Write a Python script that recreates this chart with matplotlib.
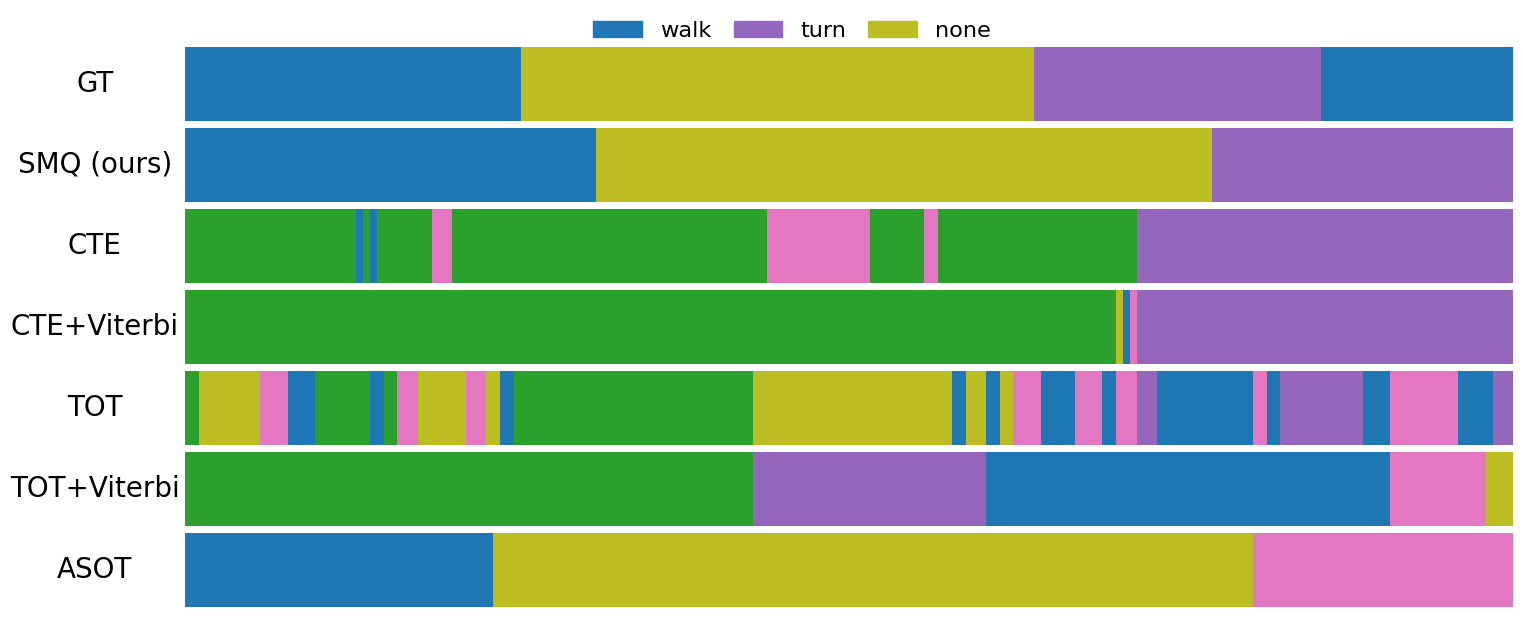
#!/usr/bin/env python3
"""Segmentation timeline comparison (walk / turn / none)."""
import matplotlib
matplotlib.use('Agg')
import matplotlib.pyplot as plt
from matplotlib.patches import Patch
import numpy as np

n_frames = 1328

methods = ['GT', 'SMQ (ours)', 'CTE', 'CTE+Viterbi', 'TOT', 'TOT+Viterbi', 'ASOT']

# segment boundaries (frames) and the class of each segment
gt_bounds = [0, 336, 849, 1136, 1328]
gt_labels = ['walk', 'none', 'turn', 'walk']

smq_bounds = [0, 411, 1027, 1328]
smq_labels = ['walk', 'none', 'turn']

cte_bounds = [0, 171, 178, 185, 192, 247, 267, 582, 685, 739, 753, 952, 1328]
cte_labels = ['c3', 'walk', 'c3', 'walk', 'c3', 'c4', 'c3', 'c4', 'c3', 'c4',
              'c3', 'turn']

ctev_bounds = [0, 931, 938, 945, 952, 1328]
ctev_labels = ['c3', 'none', 'walk', 'c4', 'turn']

tot_bounds = [0, 14, 75, 103, 130, 185, 199, 212, 233, 281, 301, 315, 329,
              568, 767, 781, 801, 815, 828, 856, 890, 917, 931, 952, 972,
              1068, 1082, 1095, 1178, 1205, 1273, 1308, 1328]
tot_labels = ['c3', 'none', 'c4', 'walk', 'c3', 'walk', 'c3', 'c4', 'none',
              'c4', 'none', 'walk', 'c3', 'none', 'walk', 'none', 'walk',
              'none', 'c4', 'walk', 'c4', 'walk', 'c4', 'turn', 'walk', 'c4',
              'walk', 'turn', 'walk', 'c4', 'walk', 'turn']

totv_bounds = [0, 568, 801, 1205, 1301, 1328]
totv_labels = ['c3', 'turn', 'walk', 'c4', 'none']

asot_bounds = [0, 308, 1068, 1328]
asot_labels = ['walk', 'none', 'c4']

all_bounds = [gt_bounds, smq_bounds, cte_bounds, ctev_bounds, tot_bounds,
              totv_bounds, asot_bounds]
all_labels = [gt_labels, smq_labels, cte_labels, ctev_labels, tot_labels,
              totv_labels, asot_labels]

colors = {
    'walk': '#1f77b4',
    'turn': '#9467bd',
    'none': '#bcbd22',
    'c3': '#2ca02c',
    'c4': '#e377c2',
}

fig = plt.figure(figsize=(15.23, 6.17), dpi=100)
ax = fig.add_axes([185 / 1523, 10 / 617, 1328 / 1523, 560 / 617])

bar_h = 74 / 81
for row, (bounds, labels) in enumerate(zip(all_bounds, all_labels)):
    b = np.array(bounds)
    ax.barh(row, b[1:] - b[:-1], left=b[:-1], height=bar_h,
            color=[colors[l] for l in labels], linewidth=0)

ax.set_xlim(0, n_frames)
ax.set_ylim(len(methods) - 1 + bar_h / 2, -bar_h / 2)
ax.set_xticks([])
ax.set_yticks(range(len(methods)))
ax.set_yticklabels(methods, fontsize=20, ha='center', va='center')
ax.tick_params(axis='y', length=0, pad=65)
for s in ax.spines.values():
    s.set_visible(False)

handles = [Patch(color=colors[k], label=k) for k in ['walk', 'turn', 'none']]
fig.legend(handles=handles, loc='center', bbox_to_anchor=(792 / 1523, 1 - 31 / 617),
           ncol=3, frameon=False, fontsize=16.2, handlelength=2.15,
           handleheight=0.75, columnspacing=1.0, handletextpad=0.8,
           borderaxespad=0)

fig.savefig('out.png', dpi=100)
plt.close(fig)
